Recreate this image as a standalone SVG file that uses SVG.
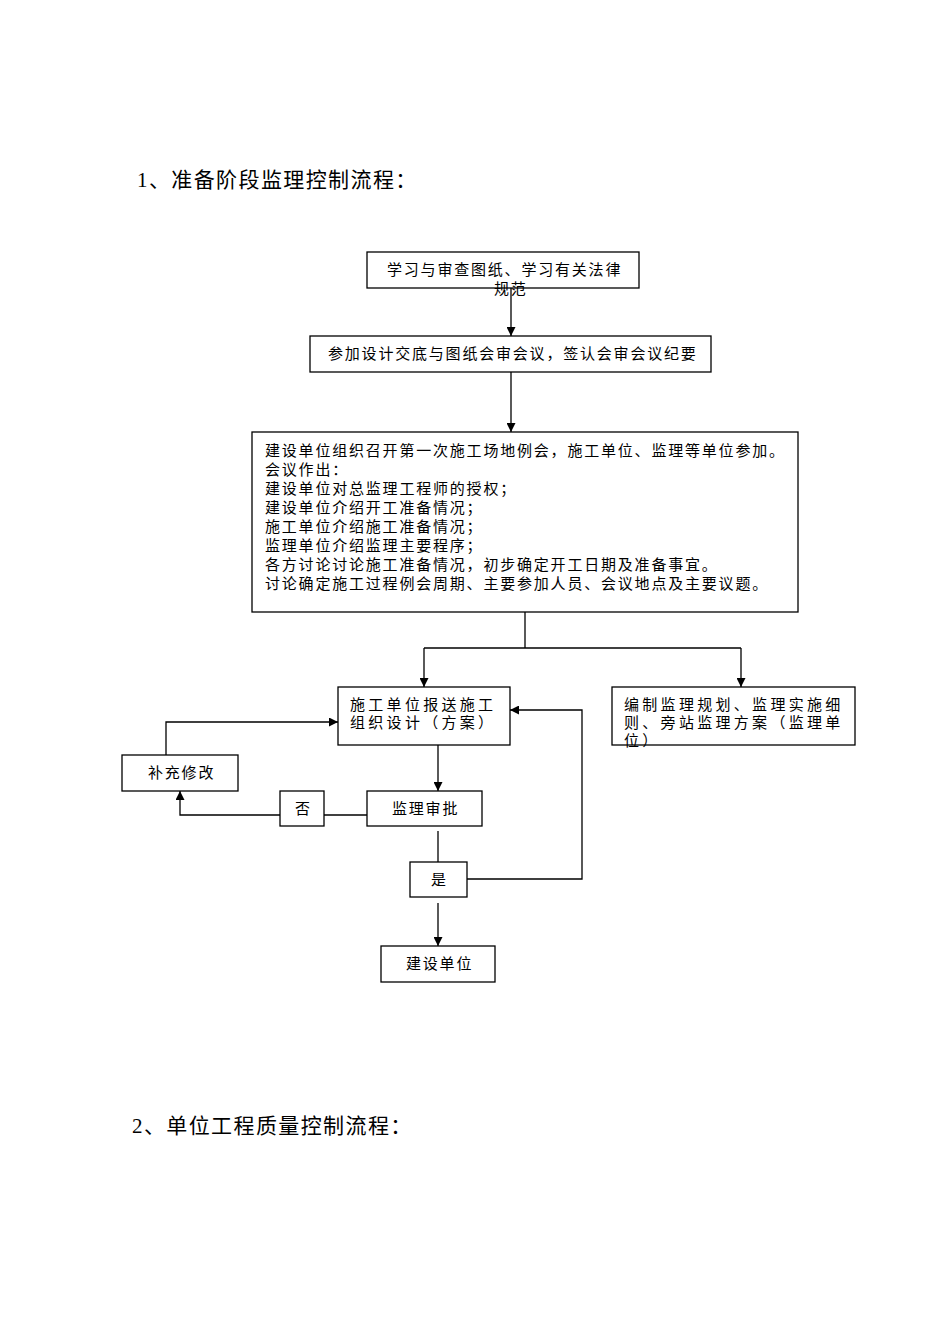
<svg xmlns="http://www.w3.org/2000/svg" width="950" height="1344" viewBox="0 0 950 1344">
<defs>
<marker id="ah" viewBox="0 0 10 10" refX="10" refY="5" markerWidth="9" markerHeight="9" markerUnits="userSpaceOnUse" orient="auto">
<path d="M0,0 L10,5 L0,10 z" fill="#000"/>
</marker>
<style>
.box{fill:#fff;stroke:#000;stroke-width:1.3}
.t{font-family:"Liberation Serif","Noto Sans CJK SC",serif;font-size:15px;fill:#000;letter-spacing:1.8px}
.w{letter-spacing:3.3px}
.h{font-family:"Liberation Serif","Noto Sans CJK SC",serif;font-size:21px;fill:#000;letter-spacing:1.4px}
.c{fill:none;stroke:#000;stroke-width:1.3}
</style>
</defs>
<rect width="950" height="1344" fill="#fff"/>
<text class="h" x="137" y="187">1、准备阶段监理控制流程：</text>
<text class="h" x="132" y="1133">2、单位工程质量控制流程：</text>

<g id="connectors">
<path class="c" d="M511,288 V336" marker-end="url(#ah)"/>
<path class="c" d="M511,372 V432" marker-end="url(#ah)"/>
<path class="c" d="M525,612 V648"/>
<path class="c" d="M424,648 H741"/>
<path class="c" d="M424,648 V687" marker-end="url(#ah)"/>
<path class="c" d="M741,648 V687" marker-end="url(#ah)"/>
<path class="c" d="M438,745 V791" marker-end="url(#ah)"/>
<path class="c" d="M367,815 H324"/>
<path class="c" d="M280,815 H180 V791" marker-end="url(#ah)"/>
<path class="c" d="M166,755 V722 H338" marker-end="url(#ah)"/>
<path class="c" d="M438,831 V862"/>
<path class="c" d="M467,879 H582 V710 H510" marker-end="url(#ah)"/>
<path class="c" d="M438,903 V946" marker-end="url(#ah)"/>
</g>

<g id="n1">
<rect class="box" x="367" y="252" width="272" height="36"/>
<text class="t" x="387" y="275">学习与审查图纸、学习有关法律</text>
<text class="t" x="494" y="294">规范</text>
</g>
<g id="n2">
<rect class="box" x="310" y="336" width="401" height="36"/>
<text class="t" x="328" y="359">参加设计交底与图纸会审会议，签认会审会议纪要</text>
</g>
<g id="n3">
<rect class="box" x="252" y="432" width="546" height="180"/>
<text class="t" x="265" y="456">建设单位组织召开第一次施工场地例会，施工单位、监理等单位参加。</text>
<text class="t" x="265" y="475">会议作出：</text>
<text class="t" x="265" y="494">建设单位对总监理工程师的授权；</text>
<text class="t" x="265" y="513">建设单位介绍开工准备情况；</text>
<text class="t" x="265" y="532">施工单位介绍施工准备情况；</text>
<text class="t" x="265" y="551">监理单位介绍监理主要程序；</text>
<text class="t" x="265" y="570">各方讨论讨论施工准备情况，初步确定开工日期及准备事宜。</text>
<text class="t" x="265" y="589">讨论确定施工过程例会周期、主要参加人员、会议地点及主要议题。</text>
</g>
<g id="n4">
<rect class="box" x="338" y="687" width="172" height="58"/>
<text class="t w" x="350" y="710">施工单位报送施工</text>
<text class="t w" x="350" y="728">组织设计（方案）</text>
</g>
<g id="n5">
<rect class="box" x="612" y="687" width="243" height="58"/>
<text class="t w" x="624" y="710">编制监理规划、监理实施细</text>
<text class="t w" x="624" y="728">则、旁站监理方案（监理单</text>
<text class="t w" x="624" y="746">位）</text>
</g>
<g id="n6">
<rect class="box" x="122" y="755" width="116" height="36"/>
<text class="t" x="148" y="778">补充修改</text>
</g>
<g id="n7">
<rect class="box" x="367" y="791" width="115" height="35"/>
<text class="t" x="392" y="814">监理审批</text>
</g>
<g id="n8">
<rect class="box" x="280" y="791" width="44" height="35"/>
<text class="t" x="295" y="814">否</text>
</g>
<g id="n9">
<rect class="box" x="410" y="862" width="57" height="35"/>
<text class="t" x="431" y="885">是</text>
</g>
<g id="n10">
<rect class="box" x="381" y="946" width="114" height="36"/>
<text class="t" x="406" y="969">建设单位</text>
</g>
</svg>
